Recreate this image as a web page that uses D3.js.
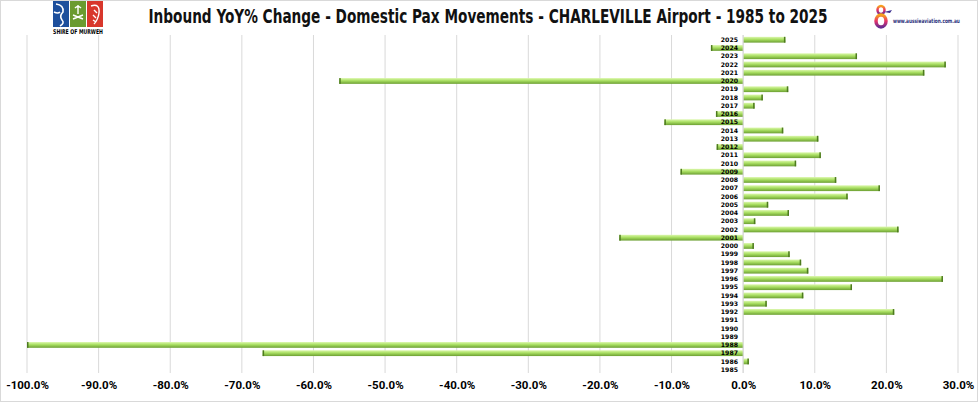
<!DOCTYPE html>
<html>
<head>
<meta charset="utf-8">
<script src="https://cdn.jsdelivr.net/npm/d3@7"></script>
<style>
  body { margin: 0; background: #fff; }
  svg { display: block; }
</style>
</head>
<body>
<div class="chart_container"></div>
<script>
// years, top to bottom as drawn
var years = [2025, 2024, 2023, 2022, 2021, 2020, 2019, 2018, 2017, 2016, 2015, 2014, 2013, 2012,
             2011, 2010, 2009, 2008, 2007, 2006, 2005, 2004, 2003, 2002, 2001, 2000, 1999, 1998,
             1997, 1996, 1995, 1994, 1993, 1992, 1991, 1990, 1989, 1988, 1987, 1986, 1985];
// YoY % change, same order as years
var yoy_change = [5.9, -4.5, 15.9, 28.3, 25.3, -56.4, 6.3, 2.75, 1.6, -3.8, -11.0, 5.6, 10.5, -3.7,
                  10.85, 7.4, -8.75, 13.0, 19.1, 14.6, 3.5, 6.4, 1.7, 21.7, -17.3, 1.5, 6.5, 8.1,
                  9.1, 27.9, 15.2, 8.4, 3.3, 21.1, 0, 0, 0, -100, -67.1, 0.8, 0];
var x_ticks = [-100, -90, -80, -70, -60, -50, -40, -30, -20, -10, 0, 10, 20, 30];
var title_text = "Inbound YoY% Change - Domestic Pax Movements - CHARLEVILLE Airport - 1985 to 2025";

var data = years.map((y, i) => ({year: y, value: yoy_change[i]}));

var w = 980, h = 404;
var svg = d3.select('.chart_container')
            .append('svg')
            .attr('width', w)
            .attr('height', h);

// squeeze a text horizontally to a target width, keeping its height
function fitWidth(sel, target, cx) {
    var len = sel.node().getComputedTextLength();
    if (len > target) {
        var k = target / len;
        sel.attr('transform', 'translate(' + cx + ',0) scale(' + k + ',1) translate(' + (-cx) + ',0)');
    }
}

// frame
svg.append('rect')
   .attr('x', 0.5).attr('y', 0.5)
   .attr('width', w - 3).attr('height', h - 3)
   .attr('fill', 'none')
   .attr('stroke', '#d9d9d9');

// bar gradient
var defs = svg.append('defs');
var grad = defs.append('linearGradient')
               .attr('id', 'barGrad')
               .attr('x1', 0).attr('y1', 0).attr('x2', 0).attr('y2', 1);
grad.append('stop').attr('offset', '0%').attr('stop-color', '#dcf7ad');
grad.append('stop').attr('offset', '45%').attr('stop-color', '#a9df62');
grad.append('stop').attr('offset', '100%').attr('stop-color', '#6c9f33');

var logoGrad = defs.append('linearGradient')
                   .attr('id', 'logoGrad')
                   .attr('x1', 0).attr('y1', 0).attr('x2', 0).attr('y2', 1);
logoGrad.append('stop').attr('offset', '0%').attr('stop-color', '#f7a21b');
logoGrad.append('stop').attr('offset', '50%').attr('stop-color', '#e8336b');
logoGrad.append('stop').attr('offset', '100%').attr('stop-color', '#6a2c91');

// scales
var x_scale = d3.scaleLinear()
                .domain([-100, 30])
                .range([27, 958]);
var y_scale = d3.scaleBand()
                .domain(years)
                .range([35.6, 373.8])
                .paddingInner(0.3)
                .paddingOuter(0.15);

// gridlines
svg.append('g')
   .attr('class', 'grid')
   .selectAll('line')
   .data(x_ticks)
   .enter()
   .append('line')
   .attr('x1', d => x_scale(d)).attr('x2', d => x_scale(d))
   .attr('y1', 35).attr('y2', 373)
   .attr('stroke', '#d9d9d9')
   .attr('stroke-width', 1);

// x axis labels
var x_axis = d3.axisBottom(x_scale)
               .tickValues(x_ticks)
               .tickSize(0)
               .tickPadding(0)
               .tickFormat(d => d.toFixed(1) + '%');
var xg = svg.append('g')
            .attr('class', 'x_axis')
            .attr('transform', 'translate(0,381)')
            .call(x_axis);
xg.select('.domain').remove();
xg.selectAll('text')
  .style('font-family', 'Roboto, "Liberation Sans", sans-serif')
  .style('font-weight', 'bold')
  .style('font-size', '11.5px')
  .attr('fill', '#000');

// bars
var bars = svg.selectAll('.bar')
              .data(data.filter(d => d.value !== 0))
              .enter()
              .append('g')
              .attr('class', 'bar');
var bh = y_scale.bandwidth();
bars.append('rect')
    .attr('x', d => x_scale(Math.min(0, d.value)))
    .attr('y', d => y_scale(d.year))
    .attr('width', d => Math.abs(x_scale(d.value) - x_scale(0)))
    .attr('height', bh)
    .attr('fill', 'url(#barGrad)');
// darker end cap
bars.append('rect')
    .attr('x', d => d.value > 0 ? x_scale(d.value) - 1.5 : x_scale(d.value))
    .attr('y', d => y_scale(d.year))
    .attr('width', 1.5)
    .attr('height', bh)
    .attr('fill', '#4d7a1f');

// zero axis line
svg.append('line')
   .attr('x1', x_scale(0)).attr('x2', x_scale(0))
   .attr('y1', 35).attr('y2', 373)
   .attr('stroke', '#d9d9d9');

// year labels
svg.append('g')
   .attr('class', 'y_labels')
   .selectAll('text')
   .data(years)
   .enter()
   .append('text')
   .attr('x', 738)
   .attr('y', d => y_scale(d) + bh / 2)
   .attr('dy', '0.35em')
   .attr('text-anchor', 'end')
   .style('font-family', '"DejaVu Sans", sans-serif')
   .style('font-weight', 'bold')
   .style('font-size', '6.2px')
   .text(d => d);

// title
var title = svg.append('text')
   .attr('x', 488)
   .attr('y', 23)
   .attr('text-anchor', 'middle')
   .style('font-family', '"DejaVu Sans Condensed", "DejaVu Sans", sans-serif')
   .style('font-weight', 'bold')
   .style('font-size', '19px')
   .attr('fill', '#111')
   .text(title_text);
fitWidth(title, 680, 488);

// Shire of Murweh logo
var shire = svg.append('g').attr('class', 'shire_logo');
shire.selectAll('rect')
     .data(['#1d4f9c', '#6b9b2f', '#d8372c'])
     .enter()
     .append('rect')
     .attr('x', (d, i) => 53 + i * 17)
     .attr('y', 1)
     .attr('width', 16)
     .attr('height', 26)
     .attr('fill', d => d);
shire.append('path')
     .attr('d', 'M56,4 q8,1 7,8 q-4,4 -1,8 q3,3 -2,6 M54,12 q4,2 6,0')
     .attr('fill', 'none').attr('stroke', '#fff').attr('stroke-width', 1.6);
shire.append('path')
     .attr('d', 'M73,15 l10,4 M73,19 l10,-4 M78,5 l0,9 M75,8 q3,-3 6,0')
     .attr('fill', 'none').attr('stroke', '#fff').attr('stroke-width', 1.4);
shire.append('path')
     .attr('d', 'M91,6 q9,-3 8,7 q-1,7 -5,11 M94,10 l3,3 M93,15 l3,3 M93,20 l3,2')
     .attr('fill', 'none').attr('stroke', '#fff').attr('stroke-width', 1.4);
var shireText = shire.append('text')
     .attr('x', 78).attr('y', 34)
     .attr('text-anchor', 'middle')
     .style('font-family', '"DejaVu Sans Condensed", sans-serif')
     .style('font-weight', 'bold')
     .style('font-size', '6.5px')
     .text('SHIRE OF MURWEH');
fitWidth(shireText, 50, 78);

// aussie aviation logo
var aus = svg.append('g').attr('class', 'aus_logo');
aus.append('ellipse')
   .attr('cx', 881).attr('cy', 10).attr('rx', 3.5).attr('ry', 4)
   .attr('fill', 'none').attr('stroke', 'url(#logoGrad)').attr('stroke-width', 2.5);
aus.append('ellipse')
   .attr('cx', 881).attr('cy', 21).attr('rx', 5).attr('ry', 6)
   .attr('fill', 'none').attr('stroke', 'url(#logoGrad)').attr('stroke-width', 3.5);
aus.append('path')
   .attr('d', 'M884,12 l8,-2 l-2,3 z')
   .attr('fill', '#3b2f8f');
var ausText = aus.append('text')
   .attr('x', 893).attr('y', 23)
   .style('font-family', '"DejaVu Sans", sans-serif')
   .style('font-weight', 'bold')
   .style('font-size', '6px')
   .attr('fill', '#2a2f7a')
   .text('www.aussieaviation.com.au');
fitWidth(ausText, 67, 893);
</script>
</body>
</html>
